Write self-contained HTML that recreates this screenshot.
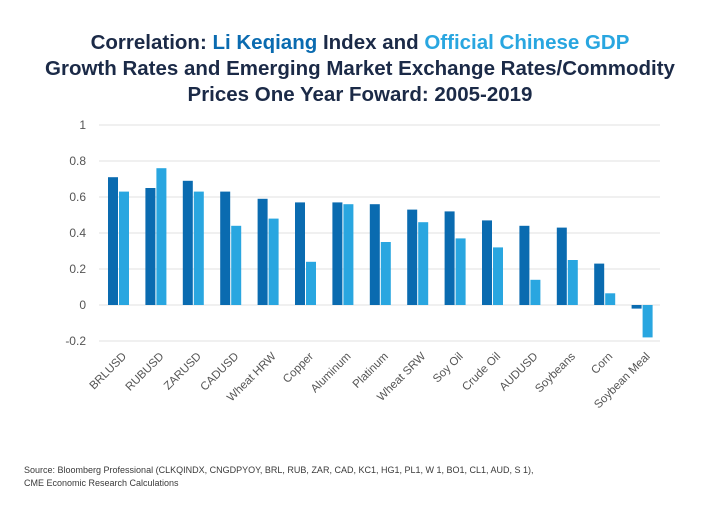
<!DOCTYPE html>
<html><head><style>
body{margin:0;background:#fff;}
</style></head><body>
<svg width="720" height="500" xmlns="http://www.w3.org/2000/svg" font-family="Liberation Sans, sans-serif">
<rect width="720" height="500" fill="#fff"/>
<g font-size="20.5" font-weight="bold" fill="#1b2a47" text-anchor="middle">
<text x="360" y="49">Correlation: <tspan fill="#0a6bb0">Li Keqiang</tspan> Index and <tspan fill="#29a6e0">Official Chinese GDP</tspan></text>
<text x="360" y="75">Growth Rates and Emerging Market Exchange Rates/Commodity</text>
<text x="360" y="101">Prices One Year Foward: 2005-2019</text>
</g>
<g stroke="#e0e0e0" stroke-width="1">
<line x1="99" x2="660" y1="125" y2="125"/><line x1="99" x2="660" y1="161" y2="161"/>
<line x1="99" x2="660" y1="197" y2="197"/><line x1="99" x2="660" y1="233" y2="233"/>
<line x1="99" x2="660" y1="269" y2="269"/><line x1="99" x2="660" y1="305" y2="305"/>
<line x1="99" x2="660" y1="341" y2="341"/>
</g>
<g font-size="12" fill="#555" text-anchor="end">
<text x="86" y="129">1</text><text x="86" y="165">0.8</text><text x="86" y="201">0.6</text>
<text x="86" y="237">0.4</text><text x="86" y="273">0.2</text><text x="86" y="309">0</text>
<text x="86" y="345">-0.2</text>
</g>
<g fill="#0a6bb0">
<rect x="108" y="177.2" width="10" height="127.8"/>
<rect x="145.4" y="188" width="10" height="117"/>
<rect x="182.8" y="180.8" width="10" height="124.2"/>
<rect x="220.2" y="191.6" width="10" height="113.4"/>
<rect x="257.6" y="198.8" width="10" height="106.2"/>
<rect x="295" y="202.4" width="10" height="102.6"/>
<rect x="332.4" y="202.4" width="10" height="102.6"/>
<rect x="369.8" y="204.2" width="10" height="100.8"/>
<rect x="407.2" y="209.6" width="10" height="95.4"/>
<rect x="444.6" y="211.4" width="10" height="93.6"/>
<rect x="482" y="220.4" width="10" height="84.6"/>
<rect x="519.4" y="225.8" width="10" height="79.2"/>
<rect x="556.8" y="227.6" width="10" height="77.4"/>
<rect x="594.2" y="263.6" width="10" height="41.4"/>
<rect x="631.6" y="305" width="10" height="3.6"/>
</g>
<g fill="#29a6e0">
<rect x="119" y="191.6" width="10" height="113.4"/>
<rect x="156.4" y="168.2" width="10" height="136.8"/>
<rect x="193.8" y="191.6" width="10" height="113.4"/>
<rect x="231.2" y="225.8" width="10" height="79.2"/>
<rect x="268.6" y="218.6" width="10" height="86.4"/>
<rect x="306" y="261.8" width="10" height="43.2"/>
<rect x="343.4" y="204.2" width="10" height="100.8"/>
<rect x="380.8" y="242" width="10" height="63"/>
<rect x="418.2" y="222.2" width="10" height="82.8"/>
<rect x="455.6" y="238.4" width="10" height="66.6"/>
<rect x="493" y="247.4" width="10" height="57.6"/>
<rect x="530.4" y="279.8" width="10" height="25.2"/>
<rect x="567.8" y="260" width="10" height="45"/>
<rect x="605.2" y="293.3" width="10" height="11.7"/>
<rect x="642.6" y="305" width="10" height="32.4"/>
</g>
<g font-size="11.5" fill="#555" text-anchor="end">
<text transform="translate(127,357) rotate(-45)">BRLUSD</text>
<text transform="translate(164.4,357) rotate(-45)">RUBUSD</text>
<text transform="translate(201.8,357) rotate(-45)">ZARUSD</text>
<text transform="translate(239.2,357) rotate(-45)">CADUSD</text>
<text transform="translate(276.6,357) rotate(-45)">Wheat HRW</text>
<text transform="translate(314,357) rotate(-45)">Copper</text>
<text transform="translate(351.4,357) rotate(-45)">Aluminum</text>
<text transform="translate(388.8,357) rotate(-45)">Platinum</text>
<text transform="translate(426.2,357) rotate(-45)">Wheat SRW</text>
<text transform="translate(463.6,357) rotate(-45)">Soy Oil</text>
<text transform="translate(501,357) rotate(-45)">Crude Oil</text>
<text transform="translate(538.4,357) rotate(-45)">AUDUSD</text>
<text transform="translate(575.8,357) rotate(-45)">Soybeans</text>
<text transform="translate(613.2,357) rotate(-45)">Corn</text>
<text transform="translate(650.6,357) rotate(-45)">Soybean Meal</text>
</g>
<g font-size="9" fill="#3a3a3a">
<text x="24" y="473">Source: Bloomberg Professional (CLKQINDX, CNGDPYOY, BRL, RUB, ZAR, CAD, KC1, HG1, PL1, W 1, BO1, CL1, AUD, S 1),</text>
<text x="24" y="486">CME Economic Research Calculations</text>
</g>
</svg>
</body></html>
